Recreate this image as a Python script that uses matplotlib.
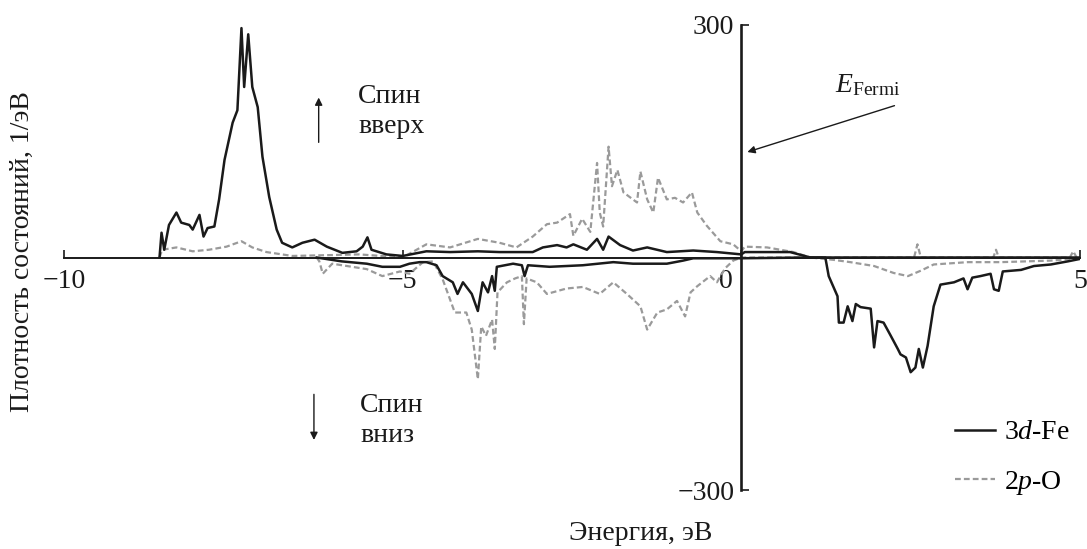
import matplotlib
matplotlib.use("Agg")
import matplotlib.pyplot as plt
from matplotlib.transforms import ScaledTranslation

plt.rcParams["font.family"] = "Liberation Serif"
plt.rcParams["mathtext.fontset"] = "custom"
plt.rcParams["mathtext.rm"] = "Liberation Serif"
plt.rcParams["mathtext.it"] = "Liberation Serif:italic"

# --- données (énergie en эВ, densité en 1/эВ) ---
fe_up_E = [-8.59, -8.56, -8.52, -8.45, -8.34, -8.27, -8.15, -8.10, -8.00, -7.94,
           -7.88, -7.78, -7.71, -7.63, -7.51, -7.44, -7.38, -7.34, -7.28, -7.22,
           -7.14, -7.07, -6.97, -6.86, -6.78, -6.63, -6.48, -6.30, -6.12, -5.89,
           -5.68, -5.59, -5.52, -5.46, -5.24, -5.00, -4.65, -4.30, -3.89, -3.57,
           -3.08, -2.93, -2.72, -2.58, -2.48, -2.28, -2.13, -2.04, -1.96, -1.79,
           -1.60, -1.39, -1.10, -0.71, -0.36, 0.00, 0.05, 0.38, 0.72, 1.02,
           2.0, 3.0, 4.0, 5.0]
fe_up = [0, 32, 10, 42, 58, 45, 42, 36, 55, 27,
         38, 40, 75, 126, 174, 190, 296, 220, 288, 220,
         194, 130, 78, 36, 19, 13, 19, 23, 14, 6,
         8, 14, 26, 10, 4, 2, 8, 7, 8, 7,
         7, 13, 16, 13, 17, 10, 24, 10, 27, 16,
         9, 13, 7, 9, 7, 4, 7, 7, 7, 0,
         0, 0, 0, 0]

fe_dn_E = [-6.27, -5.90, -5.53, -5.30, -5.04, -4.90, -4.75, -4.65, -4.50, -4.41,
           -4.26, -4.19, -4.11, -3.98, -3.89, -3.82, -3.74, -3.68, -3.64, -3.61,
           -3.37, -3.24, -3.20, -3.15, -2.83, -2.34, -1.89, -1.60, -1.10, -0.86,
           -0.71, 0.00, 1.00, 1.24, 1.29, 1.42, 1.44, 1.51, 1.57, 1.64,
           1.69, 1.76, 1.91, 1.96, 2.01, 2.10, 2.20, 2.31, 2.35, 2.43,
           2.50, 2.57, 2.62, 2.68, 2.75, 2.84, 2.94, 3.14, 3.28, 3.34,
           3.41, 3.53, 3.68, 3.73, 3.80, 3.86, 4.13, 4.32, 4.57, 4.82,
           4.99]
fe_dn = [0, -5, -8, -12, -12, -8, -6, -6, -10, -24,
         -32, -47, -32, -47, -69, -32, -45, -24, -43, -12,
         -8, -10, -24, -10, -12, -10, -6, -8, -8, -4,
         -1, -1, 0, 0, -24, -50, -84, -84, -63, -82,
         -60, -64, -66, -116, -82, -84, -100, -118, -125, -129,
         -148, -142, -118, -142, -114, -63, -35, -32, -27, -41,
         -26, -24, -21, -41, -43, -18, -16, -11, -9, -5,
         -2]

o_up_E = [-8.59, -8.55, -8.34, -8.10, -7.86, -7.60, -7.38, -7.22, -7.01, -6.63,
          -6.12, -5.64, -5.00, -4.65, -4.30, -3.89, -3.57, -3.32, -3.08, -2.87,
          -2.72, -2.53, -2.48, -2.35, -2.23, -2.13, -2.09, -2.04, -1.96, -1.91,
          -1.83, -1.74, -1.54, -1.49, -1.39, -1.30, -1.23, -1.10, -0.98, -0.86,
          -0.73, -0.65, -0.51, -0.31, -0.12, 0.00, 0.05, 0.38, 0.77, 1.02,
          2.55, 2.60, 2.65, 3.72, 3.76, 3.80, 4.85, 4.90, 4.95, 5.00]
o_up = [0, 10, 13, 8, 10, 14, 21, 13, 7, 2,
        3, 4, 0, 17, 13, 24, 19, 13, 27, 43,
        45, 56, 28, 50, 33, 122, 58, 40, 143, 92,
        113, 84, 71, 111, 75, 58, 103, 75, 77, 71,
        84, 58, 41, 21, 17, 8, 14, 13, 7, 0,
        0, 17, 0, 0, 10, 0, 0, 8, 0, 0]

o_dn_E = [-6.27, -6.23, -6.18, -6.04, -5.53, -5.30, -5.04, -4.90, -4.70, -4.55,
          -4.41, -4.23, -4.06, -3.98, -3.89, -3.84, -3.77, -3.68, -3.64, -3.60,
          -3.46, -3.34, -3.24, -3.21, -3.17, -3.02, -2.87, -2.58, -2.34, -2.09,
          -1.89, -1.69, -1.49, -1.39, -1.24, -1.10, -0.95, -0.83, -0.75, -0.65,
          -0.46, -0.36, -0.24, -0.12, 0.00, 1.02, 1.36, 1.61, 1.96, 2.25,
          2.46, 2.65, 2.84, 3.34, 3.83, 4.57, 5.00]
o_dn = [0, -5, -21, -8, -15, -24, -18, -21, -6, -5,
        -28, -71, -71, -93, -157, -89, -101, -80, -118, -45,
        -32, -27, -24, -86, -27, -32, -47, -40, -38, -47,
        -32, -47, -63, -93, -71, -67, -56, -76, -45, -37,
        -24, -32, -14, -4, 0, 0, -3, -6, -11, -20,
        -24, -17, -9, -6, -6, -4, -1]

x_ticks = [-10, -5, 0, 5]
y_ticks = [-300, 300]

noir = "#1a1a1a"
gris = "#9a9a9a"
fs = 20

fig = plt.figure(figsize=(10.87, 5.49), dpi=100)
ax = fig.add_axes([64 / 1087, 59 / 549, 1016 / 1087, 465 / 549])

# courbes
l_o, = ax.plot(o_up_E, o_up, color=gris, lw=1.6, dashes=(2.6, 1.4), label="2$p$-O")
ax.plot(o_dn_E, o_dn, color=gris, lw=1.6, dashes=(2.6, 1.4))
l_fe, = ax.plot(fe_up_E, fe_up, color=noir, lw=1.8, label="3$d$-Fe")
ax.plot(fe_dn_E, fe_dn, color=noir, lw=1.8)

ax.set_xlim(-10, 5)
ax.set_ylim(-300, 300)

# axes en croix
for s in ["top", "right"]:
    ax.spines[s].set_visible(False)
ax.spines["left"].set_position(("data", 0))
ax.spines["bottom"].set_position(("data", 0))
ax.spines["left"].set_linewidth(1.9)
ax.spines["bottom"].set_linewidth(1.4)
ax.spines["left"].set_color(noir)
ax.spines["bottom"].set_color(noir)

ax.set_xticks(x_ticks)
ax.set_xticklabels(["\u221210", "\u22125", "0", "5"])
ax.set_yticks(y_ticks)
ax.set_yticklabels(["\u2212300", "300"])
ax.tick_params(axis="x", direction="in", length=6, width=1.2, pad=8, labelsize=fs, colors=noir)
ax.tick_params(axis="y", direction="in", length=6, width=1.2, pad=5, labelsize=fs, colors=noir)

# "0" décalé à gauche de l'axe vertical
lab0 = ax.get_xticklabels()[2]
lab0.set_transform(lab0.get_transform() + ScaledTranslation(-15 / 100, 0, fig.dpi_scale_trans))

ax.set_xlabel("Энергия, эВ", fontsize=fs, color=noir, va="center")
ax.xaxis.set_label_coords(0.568, -0.0925)
ax.set_ylabel("Плотность состояний, 1/эВ", fontsize=fs, color=noir, va="center")
ax.yaxis.set_label_coords(-0.0413, 0.512)

# annotations spin
ax.text(-5.66, 188, "Спин\nвверх", fontsize=fs, ha="left", va="center", linespacing=1.25, color=noir)
ax.annotate("", xy=(-6.24, 210), xytext=(-6.24, 145),
            arrowprops=dict(arrowstyle="-|>", lw=1.0, color=noir, mutation_scale=11))
ax.text(-5.63, -210, "Спин\nвниз", fontsize=fs, ha="left", va="center", linespacing=1.25, color=noir)
ax.annotate("", xy=(-6.31, -239), xytext=(-6.31, -173),
            arrowprops=dict(arrowstyle="-|>", lw=1.0, color=noir, mutation_scale=11))

# niveau de Fermi
ax.text(1.38, 213, r"$E_{\mathrm{Fermi}}$", fontsize=fs, ha="left", va="baseline", color=noir)
ax.annotate("", xy=(0.05, 135), xytext=(2.30, 197),
            arrowprops=dict(arrowstyle="-|>", lw=1.0, color=noir, mutation_scale=11))

ax.legend(handles=[l_fe, l_o], loc="upper left", frameon=False, fontsize=fs,
          bbox_to_anchor=(955 / 1087, 1 - 420 / 549), bbox_transform=fig.transFigure,
          borderpad=0, borderaxespad=0, handlelength=1.45, handletextpad=0.3,
          labelspacing=0.85)

fig.savefig("out.png", dpi=100)
